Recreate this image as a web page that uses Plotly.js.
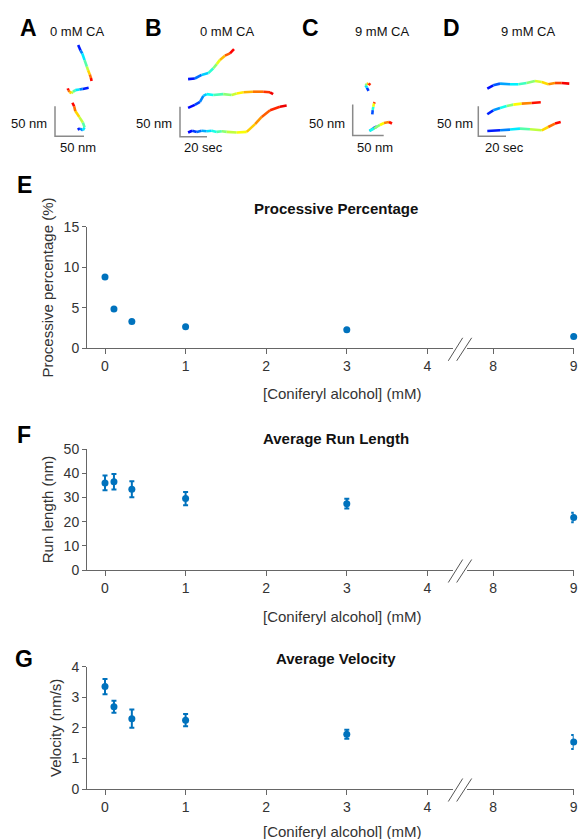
<!DOCTYPE html>
<html>
<head>
<meta charset="utf-8">
<script src="https://cdn.plot.ly/plotly-3.0.1.min.js"></script>
<style>html,body{margin:0;padding:0;background:#fff;}#chart{width:579px;height:839px;}</style>
</head>
<body>
<div id="chart"></div>
<script>
// ---------------- DATA ----------------
// Concentrations of coniferyl alcohol (mM)
const concentration = [0, 0.111, 0.333, 1, 3, 9];
// E: processive percentage (%)
const processive = [8.8, 4.85, 3.3, 2.65, 2.3, 1.45];
// F: average run length (nm) and error
const runLength = [36.0, 36.5, 33.4, 29.5, 27.4, 21.7];
const runLengthErr = [3.0, 3.2, 3.3, 2.7, 2.0, 2.0];
// G: average velocity (nm/s) and error
const velocity = [3.35, 2.69, 2.30, 2.25, 1.79, 1.54];
const velocityErr = [0.25, 0.20, 0.30, 0.20, 0.15, 0.23];
const xTicksMain = [0, 1, 2, 3, 4];
const xTicksBroken = [8, 9];

// Example trajectories (A, C: x/y in nm; B, D: time in s vs position in nm)
const trajA1x = [40, 44, 47, 51, 55, 57, 60, 62, 63];
const trajA1y = [152, 143, 138, 127, 116, 110, 103, 97, 92];
const trajA2x = [58, 48, 42, 35, 31, 28, 25, 23, 22];
const trajA2y = [81, 79, 78, 77, 74, 72, 74, 77, 80];
const trajA3x = [39, 43, 48, 51, 48, 42, 35, 33, 30];
const trajA3y = [11, 13, 10, 15, 23, 32, 42, 50, 56];

const trajB1t = [6, 11, 16, 21, 24.7, 27.2, 29.6, 33.3, 37, 40];
const trajB1y = [96, 97, 103, 106, 114, 121, 128, 135, 139, 146];
const trajB2t = [6, 11, 14.8, 17.3, 19.8, 24.7, 32, 38.3, 42, 47, 54, 61.7, 66.7, 69];
const trajB2y = [48, 53, 58, 68, 71, 69.5, 71, 69.5, 72, 74, 75, 75, 74, 71];
const trajB3t = [6, 9, 12.4, 16, 19.8, 23.5, 27.2, 31, 34.6, 42, 49.4, 55.6, 60.5, 66.7, 74, 79];
const trajB3y = [7, 10, 8, 10, 9, 10, 8, 9, 8, 7, 8, 21, 33, 44, 50, 52];

const trajC1x = [25.5, 23, 20.6, 23, 25.5, 28.7];
const trajC1y = [72, 77, 81, 83, 84, 81.5];
const trajC2x = [31.6, 32.3, 33.2, 34.4, 35.5];
const trajC2y = [34, 41, 46.5, 52, 54];
const trajC3x = [39, 32.7, 27, 34.4, 44, 50.5, 58.5, 63.4];
const trajC3y = [14.5, 11.3, 7.3, 11.3, 17, 20.2, 21.8, 19.4];

const trajD1t = [6.5, 10.8, 15.7, 22.9, 28.9, 34.9, 40.9, 45.8, 50.5, 55.4, 60.2, 65.7];
const trajD1y = [79.5, 85, 87.8, 86.7, 86.7, 88.8, 92.2, 90.5, 86.7, 88.8, 88.8, 87.8];
const trajD2t = [6.5, 10.8, 15.7, 20.5, 25.3, 31.3, 38.6, 45.1];
const trajD2y = [36.7, 43.3, 47.2, 50.5, 52.8, 54.5, 55.5, 56.7];
const trajD3t = [6.5, 15.7, 22.9, 30.1, 37.3, 45.8, 50.5, 55.4, 59.5];
const trajD3y = [8.8, 10, 11.2, 12.8, 11.7, 10, 15.5, 21.2, 23.8];

// scale bars
const scaleNm = 50, scaleSec = 20;

// ---------------- LAYOUT HELPERS ----------------
const W = 579, H = 839;
const px = p => p / W;
const py = p => 1 - p / H;
const FONT = 'Arial, "Liberation Sans", Helvetica, sans-serif';
const BLUE = '#0072BD';
const AXC = '#666666';
const TXT = '#333333';

function jet(t) {
  const s = 0.1 + 0.82 * t;
  const c = v => Math.round(255 * Math.max(0, Math.min(1, v)));
  return `rgb(${c(1.5 - Math.abs(4 * s - 3))},${c(1.5 - Math.abs(4 * s - 2))},${c(1.5 - Math.abs(4 * s - 1))})`;
}

const traces = [];
const layout = {
  width: W, height: H,
  margin: {l: 0, r: 0, t: 0, b: 0},
  paper_bgcolor: '#fff', plot_bgcolor: 'rgba(0,0,0,0)',
  showlegend: false,
  font: {family: FONT, color: TXT, size: 14},
  annotations: [], shapes: []
};

// ---- lower panels (broken x axis) ----
const unitPx = 80.6, zeroPx = 105;
const leftPx = 87, seg1RightPx = 453, seg2LeftPx = 466.7, rightPx = 573.7;
const seg1Range = [(leftPx - zeroPx) / unitPx, (seg1RightPx - zeroPx) / unitPx];
const seg2Range = [8 - (493.3 - seg2LeftPx) / unitPx, 9];

const panels = [
  {yTop: 226.7, yBot: 348.3, yr: [0, 15], yt: [0, 5, 10, 15], ytitle: 'Processive percentage (%)',
   title: 'Processive Percentage', titleY: 208, xlabY: 393, letter: 'E', letterY: 185,
   vals: processive, err: null},
  {yTop: 449, yBot: 570, yr: [0, 50], yt: [0, 10, 20, 30, 40, 50], ytitle: 'Run length (nm)',
   title: 'Average Run Length', titleY: 438, xlabY: 616, letter: 'F', letterY: 435,
   vals: runLength, err: runLengthErr},
  {yTop: 666.7, yBot: 789, yr: [0, 4], yt: [0, 1, 2, 3, 4], ytitle: 'Velocity (nm/s)',
   title: 'Average Velocity', titleY: 658, xlabY: 831, letter: 'G', letterY: 659,
   vals: velocity, err: velocityErr}
];

panels.forEach((p, k) => {
  const xa1 = 'xaxis' + (k === 0 ? '' : (2 * k + 1));
  const xa2 = 'xaxis' + (2 * k + 2);
  const ya = 'yaxis' + (k === 0 ? '' : (k + 1));
  const x1 = 'x' + (k === 0 ? '' : (2 * k + 1));
  const x2 = 'x' + (2 * k + 2);
  const y = 'y' + (k === 0 ? '' : (k + 1));
  const common = {
    showgrid: false, zeroline: false, showline: true, linecolor: AXC, linewidth: 1,
    ticks: 'outside', ticklen: 5, tickcolor: AXC, tickwidth: 1,
    tickfont: {family: FONT, size: 14, color: TXT}, fixedrange: true
  };
  layout[xa1] = Object.assign({}, common, {domain: [px(leftPx), px(seg1RightPx)], range: seg1Range,
    tickmode: 'array', tickvals: xTicksMain, anchor: y});
  layout[xa2] = Object.assign({}, common, {domain: [px(seg2LeftPx), px(rightPx)], range: seg2Range,
    tickmode: 'array', tickvals: xTicksBroken, anchor: y});
  layout[ya] = Object.assign({}, common, {domain: [py(p.yBot), py(p.yTop)], range: p.yr,
    tickmode: 'array', tickvals: p.yt, ticklen: 4, anchor: x1,
    title: {text: p.ytitle, font: {family: FONT, size: 15, color: TXT}, standoff: 6}});

  const idxMain = concentration.map((c, i) => i).filter(i => concentration[i] <= 4);
  const idxBrk = concentration.map((c, i) => i).filter(i => concentration[i] >= 8);
  [[idxMain, x1], [idxBrk, x2]].forEach(([idx, xa]) => {
    const t = {
      type: 'scatter', mode: 'markers', xaxis: xa, yaxis: y, cliponaxis: false, hoverinfo: 'x+y',
      x: idx.map(i => concentration[i]), y: idx.map(i => p.vals[i]),
      marker: {color: BLUE, size: 7}
    };
    if (p.err) t.error_y = {type: 'data', array: idx.map(i => p.err[i]), visible: true,
      color: BLUE, thickness: 2, width: 2.5};
    traces.push(t);
  });

  // break marks
  const ay = p.yBot;
  [[448.3, 456.7], [456.7, 465.7]].forEach(([a, b]) => {
    layout.shapes.push({type: 'line', xref: 'paper', yref: 'paper',
      x0: px(a), y0: py(ay + 12.5), x1: px(b + 6), y1: py(ay - 10.5),
      line: {color: '#555', width: 1}});
  });

  layout.annotations.push(
    {text: '<b>' + p.title + '</b>', xref: 'paper', yref: 'paper', x: px(336), y: py(p.titleY),
     showarrow: false, xanchor: 'center', yanchor: 'middle', font: {family: FONT, size: 15, color: '#111'}},
    {text: '[Coniferyl alcohol] (mM)', xref: 'paper', yref: 'paper', x: px(342), y: py(p.xlabY),
     showarrow: false, xanchor: 'center', yanchor: 'middle', font: {family: FONT, size: 15, color: TXT}},
    {text: '<b>' + p.letter + '</b>', xref: 'paper', yref: 'paper', x: px(24), y: py(p.letterY),
     showarrow: false, xanchor: 'center', yanchor: 'middle', font: {family: FONT, size: 23, color: '#000'}}
  );
});

// ---- top panels (trajectories) ----
const topPanels = [
  {letter: 'A', letterX: 28, sub: '0 mM CA', subX: 77, box: [40, 40, 135, 145], origin: [55, 136.3], sx: 0.58, sy: 0.6,
   trajs: [[trajA1x, trajA1y], [trajA2x, trajA2y], [trajA3x, trajA3y]], barX: scaleNm, barLabelX: '50 nm',
   leftLab: 29, botLab: 78},
  {letter: 'B', letterX: 153, sub: '0 mM CA', subX: 227, box: [170, 40, 300, 145], origin: [180, 136.7], sx: 1.35, sy: 0.6,
   trajs: [[trajB1t, trajB1y], [trajB2t, trajB2y], [trajB3t, trajB3y]], barX: scaleSec, barLabelX: '20 sec',
   leftLab: 154, botLab: 204},
  {letter: 'C', letterX: 310, sub: '9 mM CA', subX: 383, box: [340, 60, 410, 145], origin: [352.7, 135.5], sx: 0.62, sy: 0.62,
   trajs: [[trajC1x, trajC1y], [trajC2x, trajC2y], [trajC3x, trajC3y]], barX: scaleNm, barLabelX: '50 nm',
   leftLab: 327, botLab: 375},
  {letter: 'D', letterX: 451, sub: '9 mM CA', subX: 528, box: [470, 60, 579, 145], origin: [478.3, 136.3], sx: 1.385, sy: 0.6,
   trajs: [[trajD1t, trajD1y], [trajD2t, trajD2y], [trajD3t, trajD3y]], barX: scaleSec, barLabelX: '20 sec',
   leftLab: 455, botLab: 504}
];

topPanels.forEach((p, k) => {
  const n = 4 + k;
  const xa = 'xaxis' + (7 + k), ya = 'yaxis' + n;
  const xr = 'x' + (7 + k), yr = 'y' + n;
  const [bx0, by0, bx1, by1] = p.box;
  const hidden = {showgrid: false, zeroline: false, showline: false, showticklabels: false, ticks: '', fixedrange: true};
  layout[xa] = Object.assign({}, hidden, {domain: [px(bx0), px(bx1)], anchor: yr,
    range: [(bx0 - p.origin[0]) / p.sx, (bx1 - p.origin[0]) / p.sx]});
  layout[ya] = Object.assign({}, hidden, {domain: [py(by1), py(by0)], anchor: xr,
    range: [(p.origin[1] - by1) / p.sy, (p.origin[1] - by0) / p.sy]});
  // scale bar
  traces.push({type: 'scatter', mode: 'lines', xaxis: xr, yaxis: yr, hoverinfo: 'skip',
    x: [0, 0, p.barX], y: [scaleNm, 0, 0], line: {color: '#8a8a8a', width: 1.5}});
  // trajectories coloured by time (jet)
  p.trajs.forEach(([tx, ty]) => {
    const m = tx.length;
    for (let i = 0; i < m - 1; i++) {
      traces.push({type: 'scatter', mode: 'lines', xaxis: xr, yaxis: yr, hoverinfo: 'skip',
        x: [tx[i], tx[i + 1]], y: [ty[i], ty[i + 1]],
        line: {color: jet((i + 0.5) / (m - 1)), width: 2.6}});
    }
  });
  layout.annotations.push(
    {text: '<b>' + p.letter + '</b>', xref: 'paper', yref: 'paper', x: px(p.letterX), y: py(28),
     showarrow: false, xanchor: 'center', yanchor: 'middle', font: {family: FONT, size: 23, color: '#000'}},
    {text: p.sub, xref: 'paper', yref: 'paper', x: px(p.subX), y: py(32),
     showarrow: false, xanchor: 'center', yanchor: 'middle', font: {family: FONT, size: 13, color: '#111'}},
    {text: '50 nm', xref: 'paper', yref: 'paper', x: px(p.leftLab), y: py(123),
     showarrow: false, xanchor: 'center', yanchor: 'middle', font: {family: FONT, size: 13, color: '#111'}},
    {text: p.barLabelX, xref: 'paper', yref: 'paper', x: px(p.botLab), y: py(148),
     showarrow: false, xanchor: 'center', yanchor: 'middle', font: {family: FONT, size: 13, color: '#111'}}
  );
});

Plotly.newPlot('chart', traces, layout, {displayModeBar: false, staticPlot: true});
</script>
</body>
</html>
